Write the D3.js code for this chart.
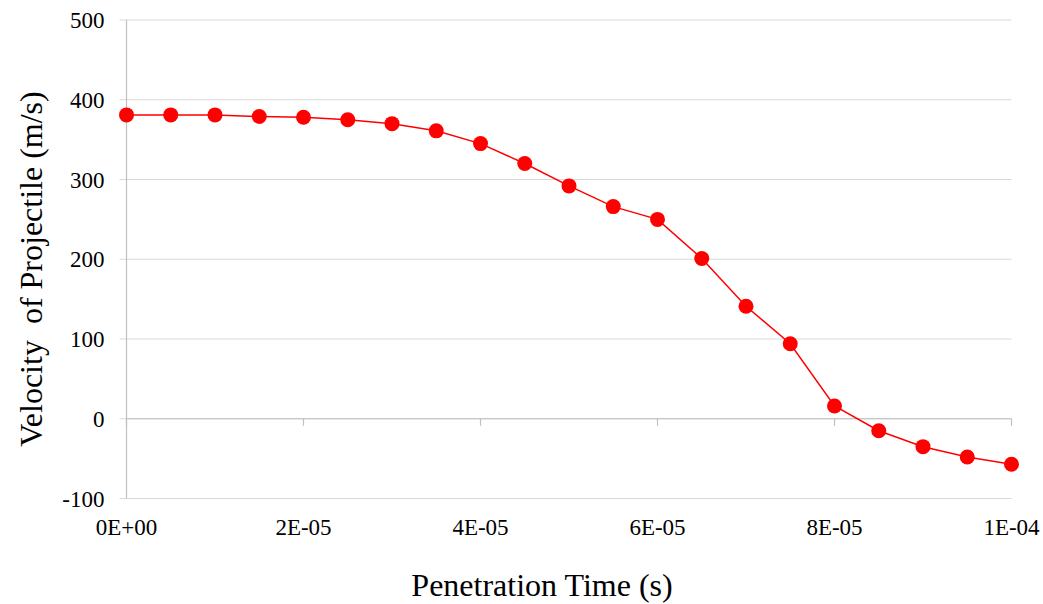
<!DOCTYPE html>
<html>
<head>
<meta charset="utf-8">
<script src="https://cdn.jsdelivr.net/npm/d3@7"></script>
<style>
  body { margin: 0; background: #fff; }
</style>
</head>
<body>
<div id="chart"></div>
<script>
// penetration time (s) and projectile velocity (m/s)
var times = [0, 5e-6, 1e-5, 1.5e-5, 2e-5, 2.5e-5, 3e-5, 3.5e-5, 4e-5, 4.5e-5, 5e-5,
             5.5e-5, 6e-5, 6.5e-5, 7e-5, 7.5e-5, 8e-5, 8.5e-5, 9e-5, 9.5e-5, 1e-4];
var velocity = [381, 381, 381, 379, 378, 375, 370, 361, 345, 320, 292,
                266, 250, 201, 141, 94, 16, -15, -35, -48, -57];
var xTicks = [0, 2e-5, 4e-5, 6e-5, 8e-5, 1e-4];
var xTickLabels = ["0E+00", "2E-05", "4E-05", "6E-05", "8E-05", "1E-04"];
var yTicks = [-100, 0, 100, 200, 300, 400, 500];

var serif = "'Liberation Serif', 'Times New Roman', serif";

var W = 1043, H = 604;
var margin = {top: 20, right: 31.5, bottom: 105.5, left: 126.5};
var width = W - margin.left - margin.right,
    height = H - margin.top - margin.bottom;

var data = times.map(function(t, i) { return {t: t, v: velocity[i]}; });

var x = d3.scaleLinear().domain([0, 1e-4]).range([0, width]);
var y = d3.scaleLinear().domain([-100, 500]).range([height, 0]);

var svg = d3.select("#chart").append("svg")
    .attr("width", W)
    .attr("height", H)
    .style("font-family", serif);

var g = svg.append("g")
    .attr("transform", "translate(" + margin.left + "," + margin.top + ")");

// horizontal gridlines, extending left as ticks
g.append("g")
    .selectAll("line")
    .data(yTicks)
    .enter().append("line")
      .attr("x1", -7)
      .attr("x2", width)
      .attr("y1", function(d) { return y(d); })
      .attr("y2", function(d) { return y(d); })
      .attr("stroke", "#d9d9d9")
      .attr("stroke-width", 1.2);

// y axis line
g.append("line")
    .attr("x1", 0).attr("x2", 0)
    .attr("y1", 0).attr("y2", height)
    .attr("stroke", "#bfbfbf")
    .attr("stroke-width", 1.2);

// x axis sits on zero, ticks go down
g.append("line")
    .attr("x1", 0).attr("x2", width)
    .attr("y1", y(0)).attr("y2", y(0))
    .attr("stroke", "#bfbfbf")
    .attr("stroke-width", 1.2);

g.append("g")
    .selectAll("line")
    .data(xTicks)
    .enter().append("line")
      .attr("x1", function(d) { return x(d); })
      .attr("x2", function(d) { return x(d); })
      .attr("y1", y(0))
      .attr("y2", y(0) + 7)
      .attr("stroke", "#bfbfbf")
      .attr("stroke-width", 1.2);

// y tick labels
g.append("g")
    .selectAll("text")
    .data(yTicks)
    .enter().append("text")
      .attr("x", -22)
      .attr("y", function(d) { return y(d); })
      .attr("dy", "0.35em")
      .attr("text-anchor", "end")
      .style("font-family", serif)
      .style("font-size", "23px")
      .text(function(d) { return d; });

// x tick labels at the bottom
g.append("g")
    .selectAll("text")
    .data(xTicks)
    .enter().append("text")
      .attr("x", function(d) { return x(d); })
      .attr("y", height + 36)
      .attr("text-anchor", "middle")
      .style("font-family", serif)
      .style("font-size", "23px")
      .text(function(d, i) { return xTickLabels[i]; });

// series line
var line = d3.line()
    .x(function(d) { return x(d.t); })
    .y(function(d) { return y(d.v); });

g.append("path")
    .datum(data)
    .attr("fill", "none")
    .attr("stroke", "#ff0000")
    .attr("stroke-width", 1.5)
    .attr("d", line);

g.selectAll(".dot")
    .data(data)
    .enter().append("circle")
      .attr("class", "dot")
      .attr("cx", function(d) { return x(d.t); })
      .attr("cy", function(d) { return y(d.v); })
      .attr("r", 7.5)
      .attr("fill", "#ff0000");

// axis titles
svg.append("text")
    .attr("text-anchor", "middle")
    .attr("x", 542)
    .attr("y", 596)
    .style("font-family", serif)
    .style("font-size", "32px")
    .text("Penetration Time (s)");

svg.append("text")
    .attr("text-anchor", "middle")
    .attr("transform", "translate(42,269)rotate(-90)")
    .style("font-family", serif)
    .style("font-size", "32px")
    .style("white-space", "pre")
    .text("Velocity  of Projectile (m/s)");
</script>
</body>
</html>
